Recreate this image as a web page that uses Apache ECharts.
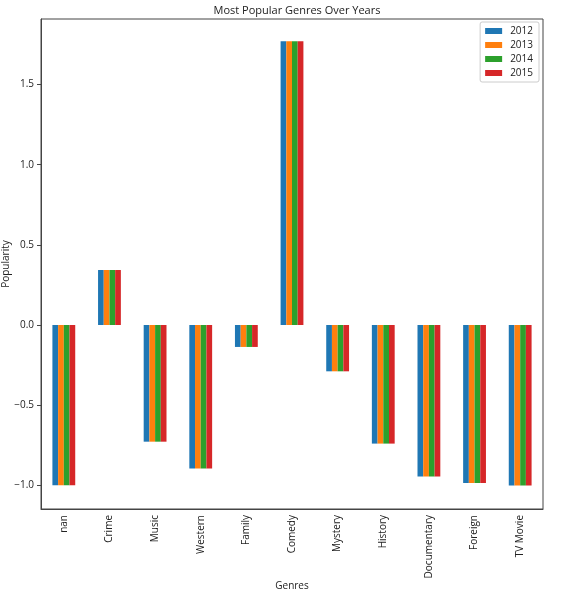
<!DOCTYPE html>
<html>
<head>
<meta charset="utf-8">
<script src="https://cdn.jsdelivr.net/npm/echarts@6/dist/echarts.min.js"></script>
<style>html,body{margin:0;padding:0;background:#fff;}#c{width:582px;height:596px;}</style>
</head>
<body>
<div id="c"></div>
<script>
const genres = ['nan','Crime','Music','Western','Family','Comedy','Mystery','History','Documentary','Foreign','TV Movie'];
const years = ['2012','2013','2014','2015'];
const pop2012 = [-1.0, 0.343, -0.728, -0.896, -0.137, 1.770, -0.289, -0.740, -0.946, -0.986, -1.002];
const pop2013 = [-1.0, 0.343, -0.728, -0.896, -0.137, 1.770, -0.289, -0.740, -0.946, -0.986, -1.002];
const pop2014 = [-1.0, 0.343, -0.728, -0.896, -0.137, 1.770, -0.289, -0.740, -0.946, -0.986, -1.002];
const pop2015 = [-1.0, 0.343, -0.728, -0.896, -0.137, 1.770, -0.289, -0.740, -0.946, -0.986, -1.002];
const yTicks = [-1.0, -0.5, 0.0, 0.5, 1.0, 1.5];
const colors = ['#1f77b4','#ff7f0e','#2ca02c','#d62728'];

const allSeries = [pop2012, pop2013, pop2014, pop2015];
const font = 'Open Sans';
const chart = echarts.init(document.getElementById('c'), null, {renderer:'canvas'});
chart.setOption({
  animation: false,
  color: colors,
  title: {
    text: 'Most Popular Genres Over Years',
    left: 292, top: 0, textAlign: 'center',
    textStyle: {fontFamily: font, fontSize: 11, fontWeight: 'normal', color: '#222'}
  },
  legend: {
    data: years,
    orient: 'vertical',
    right: 43, top: 22,
    itemWidth: 17, itemHeight: 6, itemGap: 4,
    padding: [4, 6, 4, 5],
    borderColor: '#ccc', borderWidth: 1, borderRadius: 2,
    backgroundColor: '#fff',
    icon: 'rect',
    textStyle: {fontFamily: font, fontSize: 10, color: '#222', padding: [0,0,0,3]}
  },
  grid: {
    left: 41, right: 39, top: 19, bottom: 87,
    outerBoundsMode: 'none',
    containLabel: false,
    show: true, borderColor: '#444', borderWidth: 1, backgroundColor: '#fff'
  },
  xAxis: {
    type: 'category',
    data: genres,
    name: 'Genres', nameLocation: 'middle', nameGap: 72, nameMoveOverlap: false,
    nameTextStyle: {fontFamily: font, fontSize: 10, color: '#222'},
    axisLine: {onZero: false, lineStyle: {color: '#444'}},
    axisTick: {alignWithLabel: true, length: 4, lineStyle: {color: '#444'}},
    axisLabel: {rotate: 90, interval: 0, fontFamily: font, fontSize: 10, color: '#222', margin: 6},
    splitLine: {show: false}
  },
  yAxis: {
    type: 'value',
    min: -1.148, max: 1.909,
    name: 'Popularity', nameLocation: 'middle', nameGap: 30, nameMoveOverlap: false,
    nameTextStyle: {fontFamily: font, fontSize: 10, color: '#222'},
    axisLine: {show: true, lineStyle: {color: '#444'}},
    axisTick: {show: true, length: 4, customValues: yTicks, lineStyle: {color: '#444'}},
    axisLabel: {
      customValues: yTicks, fontFamily: font, fontSize: 10, color: '#222', margin: 7,
      formatter: v => (v < 0 ? '\u2212' : '') + Math.abs(v).toFixed(1)
    },
    splitLine: {show: false}
  },
  series: allSeries.map((d, i) => ({
    name: years[i], type: 'bar', data: d,
    barGap: '0%', barCategoryGap: '50%',
    itemStyle: {color: colors[i]}
  }))
});
</script>
</body>
</html>
